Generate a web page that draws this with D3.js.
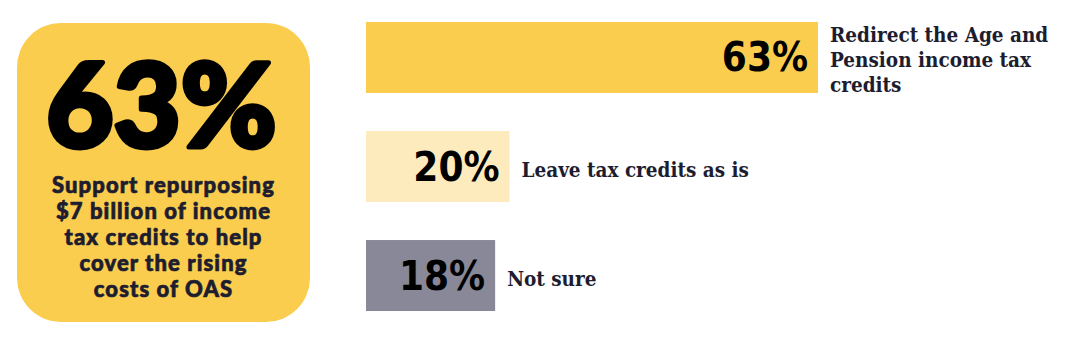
<!DOCTYPE html>
<html>
<head>
<meta charset="utf-8">
<script src="https://cdn.jsdelivr.net/npm/d3@7"></script>
<style>
  html, body { margin: 0; padding: 0; background: #fff; }
  svg { display: block; }
</style>
</head>
<body>
<div id="chart"></div>
<script>
  ///
  /// Data
  ///
  const headline = "63%";
  const headlineText = ["Support repurposing", "$7 billion of income", "tax credits to help", "cover the rising", "costs of OAS"];

  const categories = ["Redirect", "Leave", "Not sure"];
  const categoryLines = [
    ["Redirect the Age and", "Pension income tax", "credits"],
    ["Leave tax credits as is"],
    ["Not sure"]
  ];
  const values = [63, 20, 18];
  const barColors = ["#fbcd4e", "#feebbd", "#898898"];

  ///
  /// Setup
  ///
  const width = 1067, height = 344;
  const ink = "#1d1d2f";

  const svg = d3.select("#chart").append("svg")
    .attr("width", width)
    .attr("height", height);

  ///
  /// Left card
  ///
  const card = { x: 17, y: 23, w: 293, h: 299 };
  svg.append("rect")
    .attr("x", card.x).attr("y", card.y)
    .attr("width", card.w).attr("height", card.h)
    .attr("rx", 44).attr("ry", 44)
    .attr("fill", "#fbcd4e");

  const cx = card.x + card.w / 2;
  svg.append("text")
    .attr("x", cx - 2).attr("y", 147)
    .attr("text-anchor", "middle")
    .attr("font-family", "Lato, 'Noto Sans', sans-serif")
    .attr("font-weight", 900)
    .attr("font-size", 116)
    .attr("fill", "#000")
    .attr("stroke", "#000")
    .attr("stroke-width", 5)
    .attr("stroke-linejoin", "round")
    .text(headline);

  svg.append("g").selectAll("text")
    .data(headlineText)
    .join("text")
      .attr("x", cx)
      .attr("y", (d, i) => 193 + i * 26)
      .attr("text-anchor", "middle")
      .attr("font-family", "Lato, 'Noto Sans', sans-serif")
      .attr("font-weight", 900)
      .attr("font-size", 22)
      .attr("letter-spacing", 1.1)
      .attr("fill", ink)
      .attr("stroke", ink)
      .attr("stroke-width", 0.7)
      .text(d => d);

  ///
  /// Bars
  ///
  const x0 = 366;
  const x = d3.scaleLinear().domain([0, 63]).range([0, 452]);
  const y = d3.scaleBand().domain(categories).range([22, 311]).paddingInner(0.349).paddingOuter(0);

  const rows = svg.append("g").selectAll("g")
    .data(categories)
    .join("g");

  rows.append("rect")
    .attr("x", x0)
    .attr("y", d => y(d))
    .attr("width", (d, i) => x(values[i]))
    .attr("height", y.bandwidth())
    .attr("fill", (d, i) => barColors[i]);

  rows.append("text")
    .attr("x", (d, i) => x0 + x(values[i]) - 10)
    .attr("y", d => y(d) + y.bandwidth() / 2 + 14)
    .attr("text-anchor", "end")
    .attr("font-family", "'Liberation Sans Narrow', 'DejaVu Sans Condensed', sans-serif")
    .attr("font-weight", 700)
    .attr("font-size", 40)
    .attr("fill", "#000")
    .text((d, i) => values[i] + "%");

  rows.each(function(d, i) {
    const lines = categoryLines[i];
    const mid = y(d) + y.bandwidth() / 2;
    d3.select(this).append("g").selectAll("text")
      .data(lines)
      .join("text")
        .attr("x", x0 + x(values[i]) + 12)
        .attr("y", (l, j) => mid + 10 + (j - (lines.length - 1) / 2) * 25)
        .attr("font-family", "'DejaVu Serif Condensed', 'DejaVu Serif', serif")
        .attr("font-weight", 700)
        .attr("font-size", 20.5)
        .attr("fill", ink)
        .text(l => l);
  });
</script>
</body>
</html>
